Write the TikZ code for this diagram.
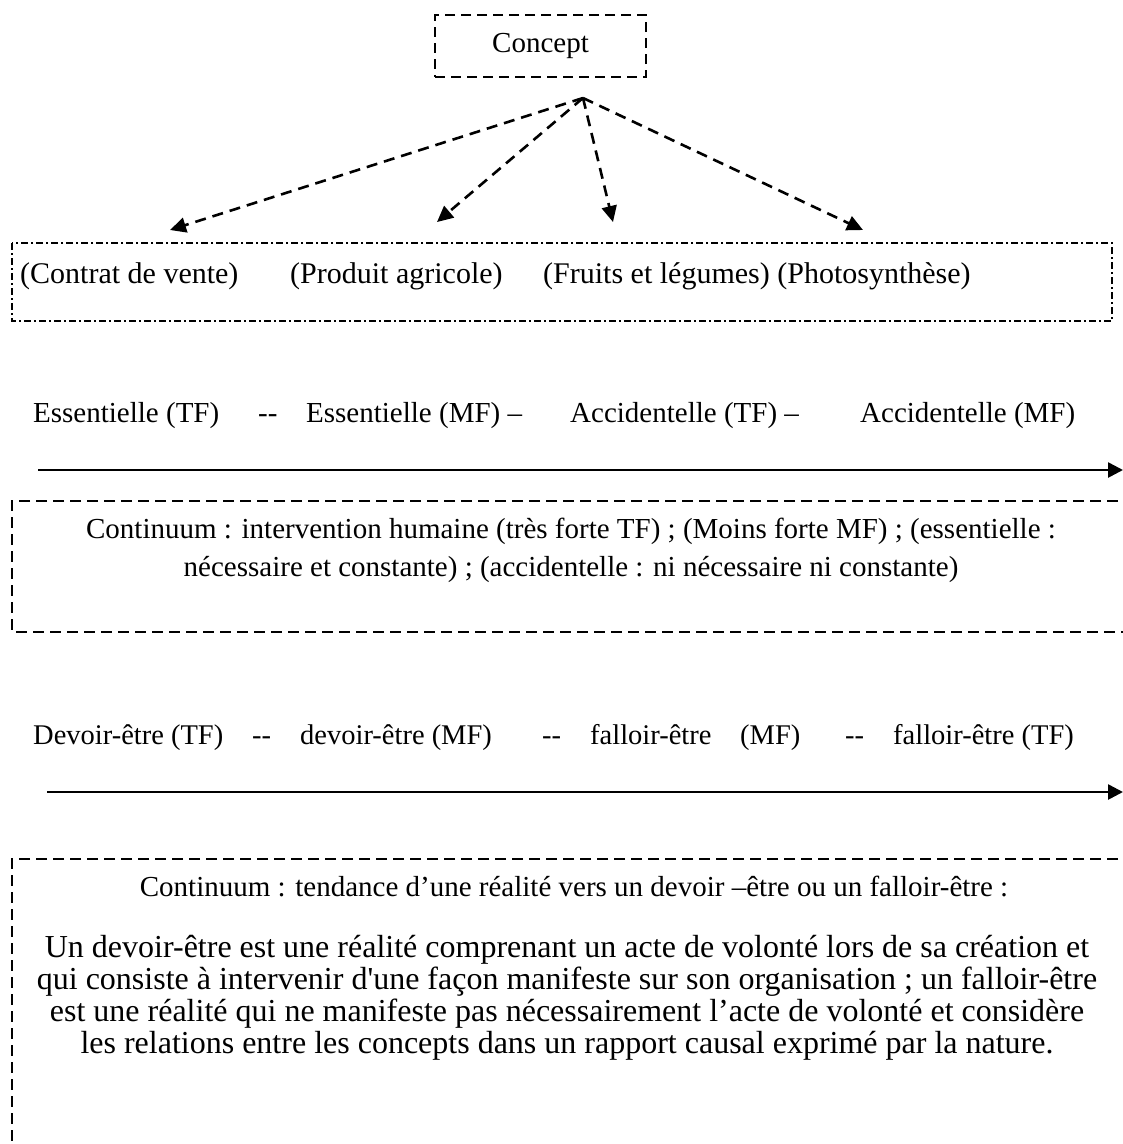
\documentclass[tikz,border=0pt]{standalone}
\usepackage{fontspec}
\setmainfont{Liberation Serif}
\usetikzlibrary{arrows.meta}
\begin{document}
\begin{tikzpicture}[x=1pt,y={(0pt,-1pt)},
  txt/.style={font=\fontsize{29}{33}\selectfont, inner sep=0pt, anchor=base west},
  rowtwo/.style={font=\fontsize{28.5}{32}\selectfont, inner sep=0pt, anchor=base west},
  toptxt/.style={font=\fontsize{30}{34}\selectfont, inner sep=0pt, anchor=base west},
  ctxt/.style={font=\fontsize{32}{36}\selectfont, inner sep=0pt, anchor=base},
  smalltxt/.style={font=\fontsize{29}{33}\selectfont, inner sep=0pt, anchor=base},
  conceptbox/.style={draw, line width=2.2pt, dash pattern=on 10pt off 6pt, minimum width=211pt, minimum height=62pt, inner sep=0pt, font=\fontsize{29}{33}\selectfont},
  dasharrow/.style={line width=2.6pt, dash pattern=on 11pt off 7pt, -{Triangle[length=16pt,width=15pt]}},
  harrow/.style={line width=2.6pt, -{Triangle[length=15pt,width=15pt]}},
  dashdotbox/.style={line width=1.3pt, dash pattern=on 7pt off 3pt on 2pt off 3pt},
  dbox/.style={line width=2pt, dash pattern=on 11pt off 6pt}
]
\useasboundingbox (0,0) rectangle (1123,1144);
\clip (0,0) rectangle (1123,1144);

% Concept
\node[conceptbox] (concept) at (540.5,46) {Concept};
\coordinate (hub) at (583,98);
\coordinate (t1) at (170,230);
\coordinate (t2) at (437,222);
\coordinate (t3) at (613,222);
\coordinate (t4) at (863,230);
\draw[dasharrow] (hub) -- (t1);
\draw[dasharrow] (hub) -- (t2);
\draw[dasharrow] (hub) -- (t3);
\draw[dasharrow] (hub) -- (t4);

% examples box
\draw[dashdotbox] (12,243) rectangle (1112,321);
\node[toptxt] (ex1) at (20,283) {(Contrat de vente)};
\node[toptxt] (ex2) at (290,283) {(Produit agricole)};
\node[toptxt] (ex3) at (543,283) {(Fruits et légumes) (Photosynthèse)};

% row 1
\node[txt] (r1a) at (33,422) {Essentielle (TF)};
\node[txt] (r1b) at (258,422) {-{}-};
\node[txt] (r1c) at (306,422) {Essentielle (MF) –};
\node[txt] (r1d) at (570,422) {Accidentelle (TF) –};
\node[txt] (r1e) at (860,422) {Accidentelle (MF)};
\coordinate (a1s) at (38,470);
\coordinate (a1e) at (1123,470);
\draw[harrow] (a1s) -- (a1e);

% box 2
\draw[dbox] (1135,501) -- (12,501) -- (12,632) -- (1135,632);
\node[smalltxt] (c1a) at (571,538) {Continuum : intervention humaine (très forte TF) ; (Moins forte MF) ; (essentielle :};
\node[smalltxt] (c1b) at (571,576) {nécessaire et constante) ; (accidentelle : ni nécessaire ni constante)};

% row 2
\node[rowtwo] (r2a) at (33,744) {Devoir-être (TF)};
\node[rowtwo] (r2b) at (252,744) {-{}-};
\node[rowtwo] (r2c) at (300,744) {devoir-être (MF)};
\node[rowtwo] (r2d) at (542,744) {-{}-};
\node[rowtwo] (r2e) at (590,744) {falloir-être};
\node[rowtwo] (r2f) at (740,744) {(MF)};
\node[rowtwo] (r2g) at (845,744) {-{}-};
\node[rowtwo] (r2h) at (893,744) {falloir-être (TF)};
\coordinate (a2s) at (47,792);
\coordinate (a2e) at (1123,792);
\draw[harrow] (a2s) -- (a2e);

% box 3
\draw[dbox] (1135,859) -- (12,859) -- (12,1150);
\node[smalltxt] (c2) at (574,896) {Continuum : tendance d’une réalité vers un devoir –être ou un falloir-être :};
\node[ctxt] (p1) at (567,957) {Un devoir-être est une réalité comprenant un acte de volonté lors de sa création et};
\node[ctxt] (p2) at (567,989) {qui consiste à intervenir d\textquotesingle une façon manifeste sur son organisation ; un falloir-être};
\node[ctxt] (p3) at (567,1021) {est une réalité qui ne manifeste pas nécessairement l’acte de volonté et considère};
\node[ctxt] (p4) at (567,1053) {les relations entre les concepts dans un rapport causal exprimé par la nature.};
\end{tikzpicture}
\end{document}
